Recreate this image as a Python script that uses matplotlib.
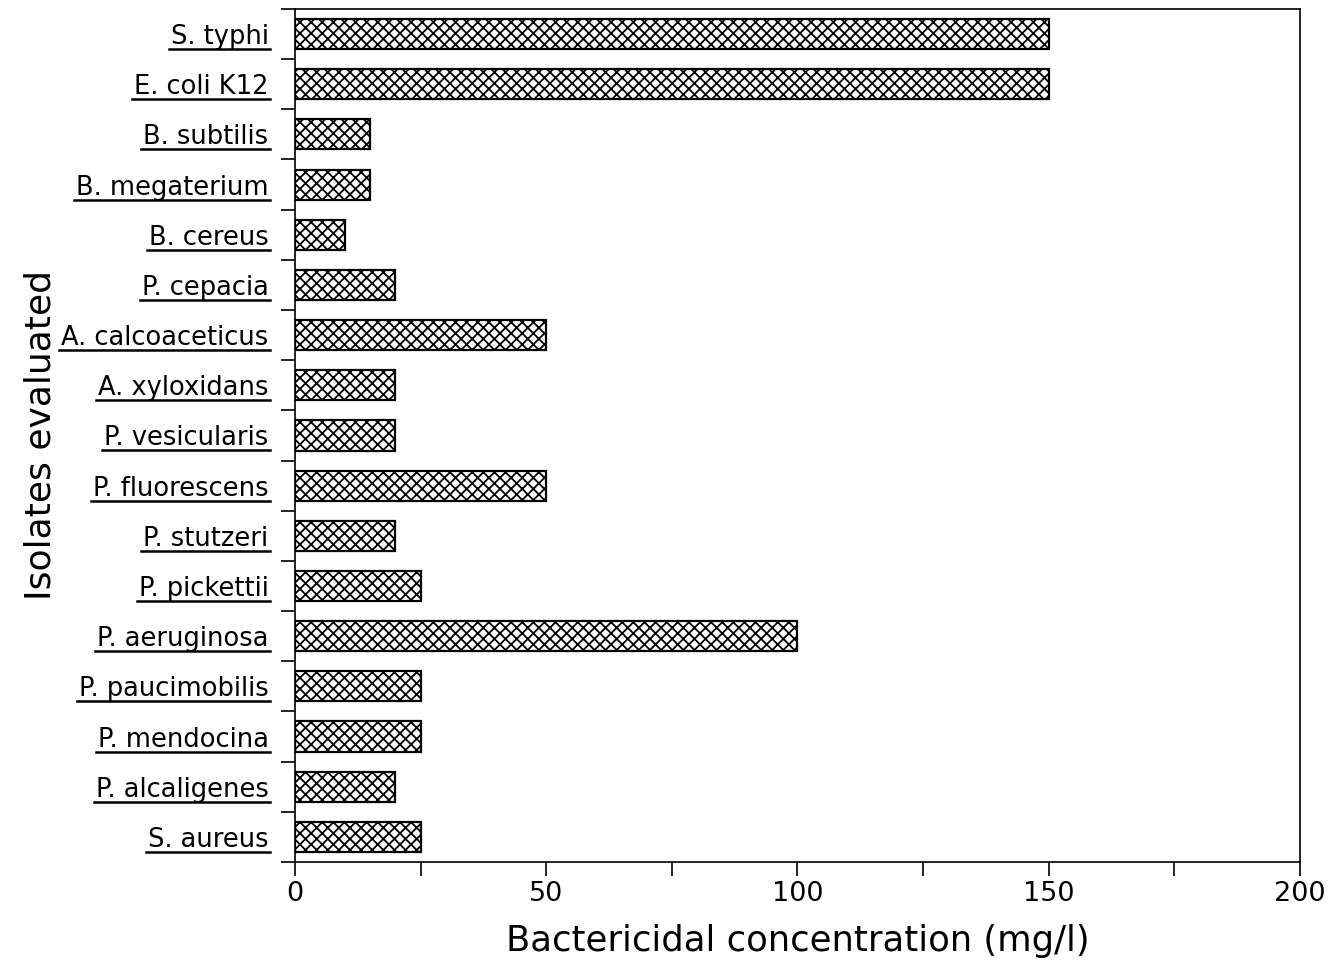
import matplotlib
matplotlib.use("Agg")
import matplotlib.pyplot as plt
from matplotlib.lines import Line2D
import numpy as np

# Isolates, listed from top to bottom
isolates = ["S. typhi", "E. coli K12", "B. subtilis", "B. megaterium", "B. cereus",
            "P. cepacia", "A. calcoaceticus", "A. xyloxidans", "P. vesicularis",
            "P. fluorescens", "P. stutzeri", "P. pickettii", "P. aeruginosa",
            "P. paucimobilis", "P. mendocina", "P. alcaligenes", "S. aureus"]
# Bactericidal concentration (mg/l)
conc = [150, 150, 15, 15, 10, 20, 50, 20, 20, 50, 20, 25, 100, 25, 25, 20, 25]
xticks = [0, 50, 100, 150, 200]

plt.rcParams['font.family'] = ['DejaVu Sans']
plt.rcParams['hatch.linewidth'] = 1.3

fig = plt.figure(figsize=(13.3, 9.63), dpi=100)
ax = fig.add_axes([0.2218, 0.1049, 0.7556, 0.8858])

n = len(isolates)
ypos = np.arange(n)[::-1]
ax.barh(ypos, conc, height=0.6, color='white', edgecolor='black',
        linewidth=1.6, hatch='xxx')

ax.set_xlim(0, 200)
ax.set_ylim(-0.5, n - 0.5)

ax.set_xticks(xticks)
ax.set_xticks(np.arange(0, 201, 25), minor=True)
ax.tick_params(axis='x', which='both', direction='out', length=10, width=1.2,
               labelsize=19.5, pad=4)
ax.set_yticks(ypos)
ax.set_yticklabels(isolates)
ax.set_yticks(np.arange(n + 1) - 0.5, minor=True)
ax.tick_params(axis='y', which='major', length=0, labelsize=18.5, pad=19)
ax.tick_params(axis='y', which='minor', direction='out', length=10, width=1.2)

for s in ax.spines.values():
    s.set_linewidth(1.2)

ax.set_xlabel("Bactericidal concentration (mg/l)", fontsize=25.5, labelpad=12)
ax.set_ylabel("Isolates evaluated", fontsize=26, labelpad=3)

# underline each isolate name
fig.canvas.draw()
renderer = fig.canvas.get_renderer()
inv = fig.transFigure.inverted()
for lbl in ax.get_yticklabels():
    bb = lbl.get_window_extent(renderer)
    (x0, y0), (x1, _) = inv.transform([(bb.x0 - 2, bb.y0 + 1), (bb.x1 + 1, bb.y0)])
    fig.add_artist(Line2D([x0, x1], [y0, y0], color='black', linewidth=1.8,
                          transform=fig.transFigure))

fig.savefig("out.png", dpi=100)
